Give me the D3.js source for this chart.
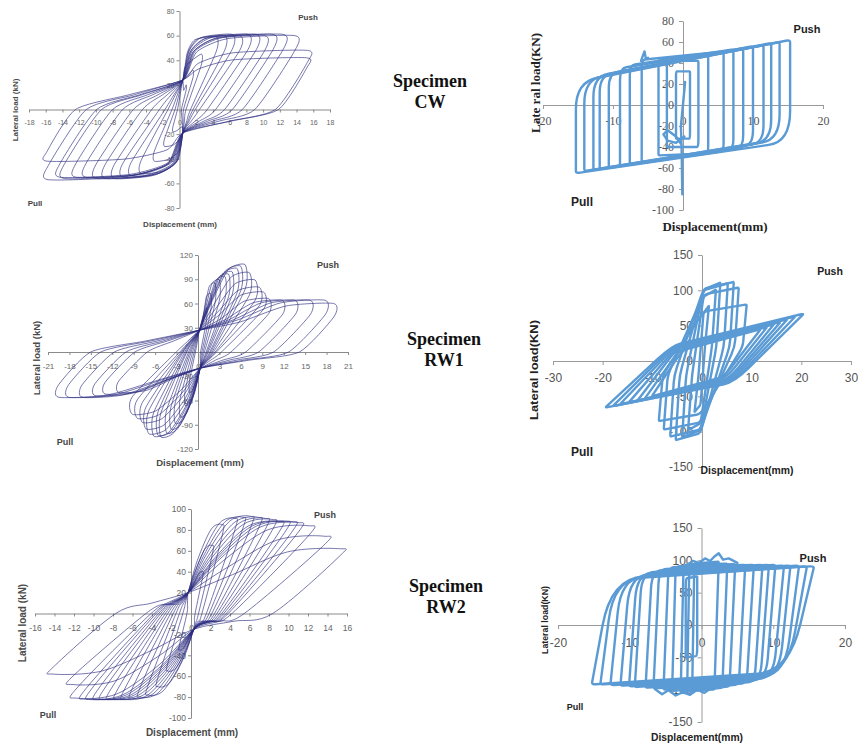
<!DOCTYPE html>
<html>
<head>
<meta charset="utf-8">
<script src="https://cdn.jsdelivr.net/npm/d3@7"></script>
<style>
  body { margin: 0; background: #fff; }
  svg { display: block; }
</style>
</head>
<body>
<svg id="fig" width="861" height="747"></svg>
<script>
// ===================== Data =====================

// --- Specimen CW, test (cycle peaks, mm / kN) ---
const cwTestPushDisp = [0.8, 1.6, 2.6, 4.4, 5.4, 6.3, 7.2, 8.2, 9.2, 10.2, 11.2, 12.4, 13.8, 15.2, 15.3];
const cwTestPushLoad = [20, 32, 45, 59, 60, 61, 60, 61, 61, 60, 61, 61, 60, 42, 48];
const cwTestPullDisp = [0.8, 1.8, 3.0, 4.6, 5.8, 6.8, 7.8, 8.9, 10.0, 11.2, 12.4, 13.8, 14.3, 15.7, 15.8];
const cwTestPullLoad = [18, 30, 42, 52, 54, 55, 56, 56, 56, 55, 55, 56, 55, 57, 42];
const cwTestXTicks = [-18, -16, -14, -12, -10, -8, -6, -4, -2, 0, 2, 4, 6, 8, 10, 12, 14, 16, 18];
const cwTestYTicks = [-80, -60, -40, -20, 20, 40, 60, 80];

// --- Specimen RW1, test ---
const rw1TestPushDisp = [1.2, 1.8, 2.4, 3.0, 3.8, 4.3, 4.8, 5.5, 6.0, 6.6, 7.2, 8.0, 8.6, 9.2, 9.9, 11.8, 13.6, 15.7, 17.8, 19.0];
const rw1TestPushLoad = [55, 72, 85, 89, 93, 96, 99, 103, 106, 108, 98, 89, 80, 74, 66, 64, 64, 64, 64, 60];
const rw1TestPullDisp = [1.2, 1.8, 2.5, 3.2, 3.8, 4.4, 5.2, 5.6, 6.2, 6.9, 7.3, 7.8, 8.5, 9.2, 11.1, 13.0, 14.4, 16.2, 18.1, 19.5];
const rw1TestPullLoad = [50, 66, 80, 88, 95, 100, 105, 103, 104, 101, 95, 87, 82, 77, 50, 52, 54, 56, 56, 56];
const rw1TestXTicks = [-21, -18, -15, -12, -9, -6, -3, 0, 3, 6, 9, 12, 15, 18, 21];
const rw1TestYTicks = [-120, -90, -60, -30, 30, 60, 90, 120];

// --- Specimen RW2, test ---
const rw2TestPushDisp = [1.2, 2.2, 3.2, 4.5, 5.3, 6.1, 6.9, 7.6, 8.3, 9.0, 9.6, 10.3, 10.9, 12.0, 13.6, 15.2];
const rw2TestPushLoad = [40, 65, 85, 91, 92, 93, 92, 91, 90, 88, 88, 88, 87, 84, 74, 62];
const rw2TestPullDisp = [1.2, 2.4, 3.4, 4.4, 5.2, 6.0, 6.8, 7.5, 8.2, 8.9, 9.5, 10.2, 10.8, 11.7, 12.1, 14.1];
const rw2TestPullLoad = [35, 55, 70, 78, 80, 81, 82, 82, 82, 82, 82, 82, 82, 81, 68, 58];
const rw2TestXTicks = [-16, -14, -12, -10, -8, -6, -4, -2, 0, 2, 4, 6, 8, 10, 12, 14, 16];
const rw2TestYTicks = [-100, -80, -60, -40, -20, 20, 40, 60, 80, 100];

// --- Specimen CW, analysis (corner points of each cycle) ---
const cwFePullX  = [-1.0, -2.3, -3.5, -5.9, -7.6, -9.0, -10.6, -11.9, -12.8, -14.1, -15.3];
const cwFePullY  = [-32, -40, -48, -55, -57, -58, -60, -61, -62, -63, -65];
const cwFeTopY   = [32, 42, 44, 43, 38, 35, 30, 28, 27, 24, 22];
const cwFePushX  = [1.0, 2.2, 3.6, 5.8, 7.2, 8.6, 10.0, 11.5, 12.6, 13.8, 15.3];
const cwFePushY  = [32, 42, 49, 51, 53, 54, 56, 57, 59, 60, 62];
const cwFeBotY   = [-32, -40, -46, -44, -42, -40, -38, -36, -34, -33, -35];
const cwFeKneeSteep = [0.08, 0.08, 0.08, 0.08, 0.1, 0.12, 0.15, 0.18, 0.22, 0.26, 0.3];
const cwFeKneeFlat  = [0.04, 0.04, 0.04, 0.04, 0.05, 0.05, 0.06, 0.07, 0.08, 0.09, 0.1];
const cwFeStartX = [0, 0.3, -0.3, -0.2, -0.1, -0.2, -1.0, -2.2, -2.8, -2.2, -1.0, 0.2];
const cwFeStartY = [0, 22, -20, -40, -85, -38, -30, -24, -28, -34, -36, -30];
const cwFeSpikeX = [-6.0, -5.5, -5.3, -5.0];
const cwFeSpikeY = [42, 51, 44, 45];
const cwFeXTicks = [-20, -10, 0, 10, 20];
const cwFeYTicks = [-100, -80, -60, -40, -20, 0, 20, 40, 60, 80];

// --- Specimen RW1, analysis ---
const rw1FeTallPullX = [-1.5, -2.8, -4.0, -5.3, -6.4, -7.7, -8.7];
const rw1FeTallPullY = [-72, -98, -108, -112, -107, -97, -85];
const rw1FeTallPushX = [1.4, 2.8, 3.7, 5.2, 6.4, 7.4, 9.0];
const rw1FeTallPushY = [78, 101, 111, 110, 112, 104, 80];
const rw1FePullX  = [-10.1, -11.6, -13.1, -14.8, -16.5, -18.0, -19.5];
const rw1FePullY  = [-50, -54, -57, -59, -61, -64, -66];
const rw1FeKnee1X = [-4, -4.5, -5, -5.2, -5.5, -5.8, -6];
const rw1FeKnee1Y = [15, 16, 18, 19, 20, 21, 22];
const rw1FePushX  = [11.8, 13.1, 14.5, 15.8, 17.2, 18.8, 20.5];
const rw1FePushY  = [45, 48, 52, 55, 59, 63, 67];
const rw1FeKnee2X = [4.5, 5, 5.5, 5.8, 6, 6.3, 6.5];
const rw1FeKnee2Y = [-22, -23, -25, -26, -28, -29, -30];
const rw1FeXTicks = [-30, -20, -10, 0, 10, 20, 30];
const rw1FeYTicks = [-150, -100, -50, 0, 50, 100, 150];

// --- Specimen RW2, analysis ---
const rw2FePullX = [-2.2, -1.3, -2.0, -2.9, -4.1, -5.3, -6.7, -7.8, -9.3, -10.1, -11.3, -12.7, -14.1, -15.3];
const rw2FePullY = [-50, -100, -103, -104, -102, -100, -98, -97, -96, -95, -94, -93, -92, -92];
const rw2FeTopX  = [-2.2, -1.0, -1.7, -2.5, -3.6, -4.6, -5.9, -6.9, -8.3, -9.0, -10.0, -11.2, -12.2, -12.6];
const rw2FeTopY  = [72, 95, 94, 93, 91, 89, 86, 84, 81, 79, 76, 72, 70, 72];
const rw2FePushX = [-0.6, 2.4, 3.6, 4.7, 6.1, 7.3, 8.5, 9.4, 10.3, 11.5, 12.4, 13.6, 14.7, 15.7];
const rw2FePushY = [75, 98, 95, 94, 93, 93, 93, 93, 93, 92, 92, 92, 91, 91];
const rw2FeBotX  = [-0.6, 1.8, 2.9, 3.9, 5.2, 6.3, 7.4, 8.2, 9.0, 10.0, 10.8, 11.6, 12.0, 12.2];
const rw2FeBotY  = [-48, -100, -97, -95, -92, -90, -88, -86, -84, -82, -80, -77, -74, -72];
const rw2FeKneeSteep = [0.1, 0.05, 0.05, 0.06, 0.08, 0.1, 0.12, 0.15, 0.18, 0.22, 0.27, 0.32, 0.38, 0.45];
const rw2FeKneeFlat  = [0.1, 0.03, 0.03, 0.04, 0.05, 0.06, 0.07, 0.08, 0.09, 0.1, 0.11, 0.12, 0.14, 0.16];
const rw2FeTopWiggleX = [-2.0, -1.2, -0.4, 0.5, 1.2, 1.8, 2.4, 3.0, 3.8, 5.0];
const rw2FeTopWiggleY = [93, 99, 96, 103, 99, 106, 111, 101, 103, 96];
const rw2FeBotWiggleX = [-6.5, -5.5, -4.6, -3.6, -2.6, -1.6, -0.6, 0.4, 1.4, 2.6];
const rw2FeBotWiggleY = [-99, -107, -101, -109, -104, -108, -100, -105, -97, -93];
const rw2FeXTicks = [-20, -10, 0, 10, 20];
const rw2FeYTicks = [-150, -100, -50, 0, 50, 100, 150];

const specimenNames = ['CW', 'RW1', 'RW2'];

// ===================== Drawing =====================
const svg = d3.select('#fig');
const NAVY = '#2b2b7f';
const BLUE = '#5b9bd5';
const SANS = 'Liberation Sans, Arial, sans-serif';
const SERIF = 'Liberation Serif, Times New Roman, serif';

function styleAxis(a, color, tickColor, size, family) {
  a.select('.domain').attr('stroke', color).attr('stroke-width', 1);
  a.selectAll('.tick line').attr('stroke', color);
  a.selectAll('.tick text').attr('fill', tickColor).attr('font-size', size).attr('font-family', family);
}

function drawAxes(g, sx, sy, xt, yt, o) {
  const ax = g.append('g').attr('transform', `translate(0,${sy(0)})`)
    .call(d3.axisBottom(sx).tickValues(xt).tickFormat(d => String(d))
      .tickSize(o.tick).tickSizeOuter(0).tickPadding(o.xPad));
  const ay = g.append('g').attr('transform', `translate(${sx(0)},0)`)
    .call(d3.axisLeft(sy).tickValues(yt).tickFormat(d => String(d))
      .tickSize(o.tick).tickSizeOuter(0).tickPadding(o.yPad));
  styleAxis(ax, o.axisColor, o.tickColor, o.tickSize, o.tickFont);
  styleAxis(ay, o.axisColor, o.tickColor, o.tickSize, o.tickFont);
}

function label(g, txt, x, y, o) {
  const t = g.append('text').text(txt)
    .attr('x', 0).attr('y', 0).attr('dy', '0.35em')
    .attr('text-anchor', 'middle')
    .attr('font-family', o.font).attr('font-size', o.size)
    .attr('font-weight', o.weight || 'bold').attr('fill', o.color || '#333')
    .attr('transform', `translate(${x},${y})` + (o.rotate ? ' rotate(-90)' : ''));
  if (o.length) t.attr('textLength', o.length).attr('lengthAdjust', 'spacingAndGlyphs');
  return t;
}

// pinched hysteresis cycle through its push and pull peaks
function pinchedLoop(dp, Pp, dn, Pn, s) {
  const pts = [s.up];
  const bx = s.up[0] + s.riseX * dp;
  if (bx < dp - 0.3) pts.push([bx, s.riseY * Pp]);
  const cx = s.arcX * dp;
  if (cx > bx + 0.4 && cx < dp - 0.3) pts.push([cx, s.arcY * Pp]);
  pts.push([dp, Pp]);
  pts.push([dp, s.drop * Pp]);
  const ex = Math.max(dp - s.drop * Pp / s.slope, s.minCross * dp);
  pts.push([ex, 0]);
  pts.push([(ex + s.dn[0]) / 2, s.dn[1] / 2]);
  pts.push(s.dn);
  const gx = s.dn[0] - s.riseX * dn;
  if (gx > -dn + 0.3) pts.push([gx, -s.riseY * Pn]);
  const hx = -s.arcX * dn;
  if (hx < gx - 0.4 && hx > -dn + 0.3) pts.push([hx, -s.arcY * Pn]);
  pts.push([-dn, -Pn]);
  pts.push([-dn, -s.drop * Pn]);
  const jx = Math.min(-dn + s.drop * Pn / s.slope, -s.minCross * dn);
  pts.push([jx, 0]);
  pts.push([(jx + s.up[0]) / 2, s.up[1] / 2]);
  return pts;
}

// closed polygon with rounded corners: corner = [x, y, fracToPrev, fracToNext]
function roundedLoop(corners, sx, sy) {
  const P = corners.map(c => ({ x: sx(c[0]), y: sy(c[1]), a: c[2], b: c[3] }));
  const n = P.length, path = d3.path();
  for (let i = 0; i < n; i++) {
    const c = P[i], pr = P[(i + n - 1) % n], nx = P[(i + 1) % n];
    const s0 = [c.x + c.a * (pr.x - c.x), c.y + c.a * (pr.y - c.y)];
    const e0 = [c.x + c.b * (nx.x - c.x), c.y + c.b * (nx.y - c.y)];
    if (i === 0) path.moveTo(s0[0], s0[1]); else path.lineTo(s0[0], s0[1]);
    path.quadraticCurveTo(c.x, c.y, e0[0], e0[1]);
  }
  path.closePath();
  return path.toString();
}

// ---------- test panels (left column) ----------
const testAxisStyle = { tick: 3, axisColor: '#8a8a8a', tickColor: '#666', tickFont: SANS };

function testPanel(cfg) {
  const g = svg.append('g');
  const sx = d3.scaleLinear().domain(cfg.xDomain).range(cfg.xRange);
  const sy = d3.scaleLinear().domain(cfg.yDomain).range(cfg.yRange);
  drawAxes(g, sx, sy, cfg.xTicks, cfg.yTicks,
    Object.assign({}, testAxisStyle, { tickSize: cfg.tickSize, xPad: cfg.xPad, yPad: 2 }));
  const line = d3.line().x(d => sx(d[0])).y(d => sy(d[1]))
    .curve(d3.curveCardinalClosed.tension(cfg.tension));
  const loops = cfg.pushDisp.map((d, i) =>
    pinchedLoop(d, cfg.pushLoad[i], cfg.pullDisp[i], cfg.pullLoad[i], cfg.shape));
  g.append('g').selectAll('path').data(loops).join('path')
    .attr('d', line).attr('fill', 'none').attr('stroke', NAVY)
    .attr('stroke-width', 0.8).attr('stroke-opacity', 0.8);
  label(g, 'Lateral load (kN)', cfg.yLab[0], cfg.yLab[1], { font: SANS, size: cfg.labSize, color: '#4a4a4a', rotate: true });
  label(g, 'Displacement (mm)', cfg.xLab[0], cfg.xLab[1], { font: SANS, size: cfg.labSize, color: '#4a4a4a' });
  label(g, 'Push', cfg.push[0], cfg.push[1], { font: SANS, size: cfg.ppSize, color: '#444' });
  label(g, 'Pull', cfg.pull[0], cfg.pull[1], { font: SANS, size: cfg.ppSize, color: '#444' });
}

testPanel({
  xDomain: [-18, 18], xRange: [29, 330], yDomain: [-80, 80], yRange: [208, 11],
  xTicks: cwTestXTicks, yTicks: cwTestYTicks, tickSize: 7, xPad: 7.5, tension: 0.35,
  pushDisp: cwTestPushDisp, pushLoad: cwTestPushLoad, pullDisp: cwTestPullDisp, pullLoad: cwTestPullLoad,
  shape: { up: [0.4, 24], dn: [0.4, -19], riseX: 0.12, riseY: 0.78, arcX: 0.42, arcY: 0.96, drop: 0.8, slope: 10, minCross: 0.3 },
  yLab: [15, 110], xLab: [180, 224], push: [308, 17], pull: [35, 203], labSize: 8, ppSize: 8
});

testPanel({
  xDomain: [-21, 21], xRange: [48, 348], yDomain: [-120, 120], yRange: [449, 255],
  xTicks: rw1TestXTicks, yTicks: rw1TestYTicks, tickSize: 8, xPad: 8, tension: 0.35,
  pushDisp: rw1TestPushDisp, pushLoad: rw1TestPushLoad, pullDisp: rw1TestPullDisp, pullLoad: rw1TestPullLoad,
  shape: { up: [0.2, 27], dn: [0.3, -20], riseX: 0.3, riseY: 0.62, arcX: 0.65, arcY: 0.95, drop: 0.72, slope: 9, minCross: 0.3 },
  yLab: [37, 358], xLab: [200, 463], push: [328, 265], pull: [65, 442], labSize: 9.5, ppSize: 9
});

testPanel({
  xDomain: [-16, 16], xRange: [35, 347], yDomain: [-100, 100], yRange: [718, 509],
  xTicks: rw2TestXTicks, yTicks: rw2TestYTicks, tickSize: 8.5, xPad: 8, tension: 0.05,
  pushDisp: rw2TestPushDisp, pushLoad: rw2TestPushLoad, pullDisp: rw2TestPullDisp, pullLoad: rw2TestPullLoad,
  shape: { up: [-0.3, 20], dn: [0.3, -15], riseX: 0.3, riseY: 0.6, arcX: 0.65, arcY: 0.95, drop: 0.88, slope: 8, minCross: 0.35 },
  yLab: [22, 623], xLab: [192, 732], push: [325, 515], pull: [48, 715], labSize: 10, ppSize: 9
});

// ---------- analysis panels (right column) ----------
function fePanel(cfg) {
  const g = svg.append('g');
  const sx = d3.scaleLinear().domain(cfg.xDomain).range(cfg.xRange);
  const sy = d3.scaleLinear().domain(cfg.yDomain).range(cfg.yRange);
  drawAxes(g, sx, sy, cfg.xTicks, cfg.yTicks, {
    tick: 4, axisColor: '#9a9a9a', tickColor: '#555', tickFont: cfg.tickFont,
    tickSize: cfg.tickSize, xPad: cfg.xPad, yPad: 5
  });
  const lg = g.append('g').attr('fill', 'none').attr('stroke', BLUE)
    .attr('stroke-width', 2.4).attr('stroke-linejoin', 'round').attr('stroke-linecap', 'round');
  lg.selectAll('path.loop').data(cfg.loops).join('path').attr('class', 'loop')
    .attr('d', c => roundedLoop(c, sx, sy));
  const pl = d3.line().x(d => sx(d[0])).y(d => sy(d[1])).curve(d3.curveLinear);
  lg.selectAll('path.trace').data(cfg.traces || []).join('path').attr('class', 'trace').attr('d', pl);
  label(g, cfg.yLabText, cfg.yLab[0], cfg.yLab[1], { font: cfg.labFont, size: cfg.yLabSize, color: '#222', rotate: true, length: cfg.yLabLen });
  label(g, 'Displacement(mm)', cfg.xLab[0], cfg.xLab[1], { font: cfg.labFont, size: cfg.xLabSize, color: '#222', length: cfg.xLabLen });
  label(g, 'Push', cfg.push[0], cfg.push[1], { font: SANS, size: cfg.pushSize, color: '#222' });
  label(g, 'Pull', cfg.pull[0], cfg.pull[1], { font: SANS, size: cfg.pullSize, color: '#222' });
}

const zip = (xs, ys) => xs.map((x, i) => [x, ys[i]]);

// CW analysis loops: near-rectangular cycles
const cwFeLoops = cwFePullX.map((px, i) => [
  [px, cwFePullY[i], 0.02, 0.02],
  [px, cwFeTopY[i], cwFeKneeSteep[i], cwFeKneeFlat[i]],
  [cwFePushX[i], cwFePushY[i], 0.02, 0.02],
  [cwFePushX[i], cwFeBotY[i], cwFeKneeSteep[i], cwFeKneeFlat[i]]
]);
fePanel({
  xDomain: [-20, 20], xRange: [543, 823], yDomain: [-100, 80], yRange: [210, 21],
  xTicks: cwFeXTicks, yTicks: cwFeYTicks, tickFont: SERIF, tickSize: 12, xPad: 7.5,
  loops: cwFeLoops, traces: [zip(cwFeStartX, cwFeStartY), zip(cwFeSpikeX, cwFeSpikeY)],
  labFont: SERIF, yLabText: 'Late ral load(KN)', yLab: [535, 83], yLabSize: 13, yLabLen: 100,
  xLab: [715, 226], xLabSize: 13, xLabLen: 105,
  push: [807, 29], pushSize: 11, pull: [582, 202], pullSize: 12
});

// RW1 analysis loops: tall early cycles, then parallelogram cycles
const rw1FeLoops = rw1FeTallPullX.map((px, i) => [
  [px, rw1FeTallPullY[i], 0.03, 0.03],
  [px + 0.8, -20, 0.12, 0.1],
  [0.3, rw1FeTallPushY[i] - 10, 0.1, 0.1],
  [rw1FeTallPushX[i], rw1FeTallPushY[i], 0.03, 0.03],
  [rw1FeTallPushX[i] - 0.8, 20, 0.12, 0.1],
  [-0.3, rw1FeTallPullY[i] + 10, 0.1, 0.1]
]).concat(rw1FePullX.map((px, i) => [
  [px, rw1FePullY[i], 0.02, 0.02],
  [rw1FeKnee1X[i], rw1FeKnee1Y[i], 0.22, 0.06],
  [rw1FePushX[i], rw1FePushY[i], 0.02, 0.02],
  [rw1FeKnee2X[i], rw1FeKnee2Y[i], 0.2, 0.08]
]));
fePanel({
  xDomain: [-30, 30], xRange: [553, 851], yDomain: [-150, 150], yRange: [467, 255],
  xTicks: rw1FeXTicks, yTicks: rw1FeYTicks, tickFont: SANS, tickSize: 12, xPad: 8.5,
  loops: rw1FeLoops,
  labFont: SANS, yLabText: 'Lateral load(KN)', yLab: [534, 370], yLabSize: 11.5, yLabLen: 100,
  xLab: [747, 470], xLabSize: 11, xLabLen: 93,
  push: [830, 271], pushSize: 10.5, pull: [582, 452], pullSize: 12
});

// RW2 analysis loops: wide rectangular cycles
const rw2FeLoops = rw2FePullX.map((px, i) => [
  [px, rw2FePullY[i], 0.02, 0.02],
  [rw2FeTopX[i], rw2FeTopY[i], rw2FeKneeSteep[i], rw2FeKneeFlat[i]],
  [rw2FePushX[i], rw2FePushY[i], 0.02, 0.02],
  [rw2FeBotX[i], rw2FeBotY[i], rw2FeKneeSteep[i], rw2FeKneeFlat[i]]
]);
fePanel({
  xDomain: [-20, 20], xRange: [558, 845], yDomain: [-150, 150], yRange: [722, 528],
  xTicks: rw2FeXTicks, yTicks: rw2FeYTicks, tickFont: SANS, tickSize: 12, xPad: 9.5,
  loops: rw2FeLoops,
  traces: [zip(rw2FeTopWiggleX, rw2FeTopWiggleY), zip(rw2FeBotWiggleX, rw2FeBotWiggleY)],
  labFont: SANS, yLabText: 'Lateral load(KN)', yLab: [545, 620], yLabSize: 9.5, yLabLen: 68,
  xLab: [697, 737], xLabSize: 10.5, xLabLen: 92,
  push: [813, 558], pushSize: 11, pull: [575, 707], pullSize: 9
});

// ---------- specimen captions ----------
const captionPos = [[430, 87], [444, 345], [446, 592]];
specimenNames.forEach((name, i) => {
  const t = svg.append('text').attr('text-anchor', 'middle')
    .attr('font-family', SERIF).attr('font-weight', 'bold').attr('font-size', 18).attr('fill', '#111');
  t.append('tspan').attr('x', captionPos[i][0]).attr('y', captionPos[i][1]).text('Specimen');
  t.append('tspan').attr('x', captionPos[i][0]).attr('y', captionPos[i][1] + 21).text(name);
});
</script>
</body>
</html>
